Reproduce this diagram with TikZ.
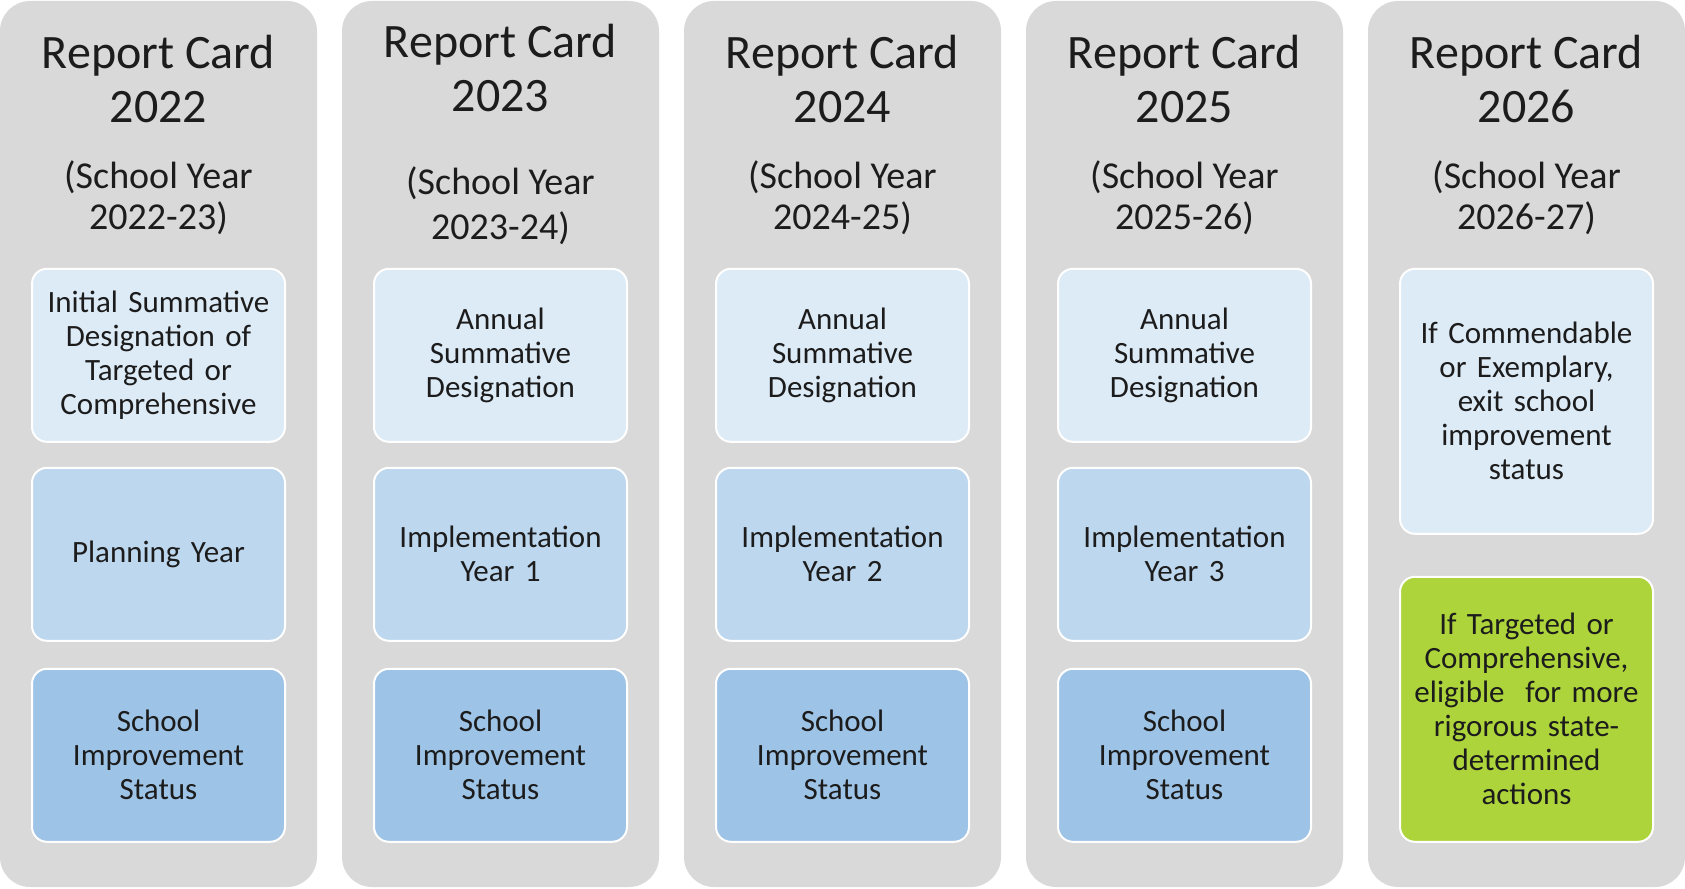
\documentclass[tikz,border=0pt]{standalone}
\usepackage{fontspec}
\setmainfont{Carlito}
\usepackage{xcolor}
\usetikzlibrary{positioning}

\definecolor{colgray}{HTML}{D9D9D9}
\definecolor{boxlight}{HTML}{DDEBF7}
\definecolor{boxmid}{HTML}{BDD7EE}
\definecolor{boxdark}{HTML}{9DC3E6}
\definecolor{boxgreen}{HTML}{ADD43B}
\definecolor{inkgray}{HTML}{1C1C1C}

\begin{document}
\begin{tikzpicture}[x=1pt, y=1pt, text=inkgray]
    \tikzstyle{column} = [rectangle, fill=colgray, rounded corners=30pt, minimum width=317pt, minimum height=886pt, inner sep=0pt]
    \tikzstyle{heading} = [align=center, inner sep=0pt, font=\fontsize{48}{54}\selectfont]
    \tikzstyle{schoolyear} = [align=center, inner sep=0pt, font=\fontsize{38}{41}\selectfont]
    \tikzstyle{stage} = [rectangle, rounded corners=15pt, draw=white, line width=2pt, minimum width=253pt, minimum height=173pt, text width=250pt, align=center, inner sep=0pt, font=\fontsize{31}{34}\selectfont]
    \tikzstyle{designation} = [stage, fill=boxlight]
    \tikzstyle{phase} = [stage, fill=boxmid]
    \tikzstyle{status} = [stage, fill=boxdark]

    \useasboundingbox (0,0) rectangle (1685,-888);

    % Columns
    \node [column] (c1) at (158.5,-444) {};
    \node [column] (c2) at (500.5,-444) {};
    \node [column] (c3) at (842.5,-444) {};
    \node [column] (c4) at (1184.5,-444) {};
    \node [column] (c5) at (1526.5,-444) {};

    % Report Card 2022
    \node [heading] (h1) at ([yshift=-78pt]c1.north) {Report Card\\2022};
    \node [schoolyear] (y1) at ([yshift=-197pt]c1.north) {(School Year\\2022-23)};
    \node [designation, below=267pt of c1.north] (d1) {Initial Summative\\Designation of\\Targeted or\\Comprehensive};
    \node [phase, below=24pt of d1] (p1) {Planning Year};
    \node [status, below=26pt of p1] (s1) {School\\Improvement\\Status};

    % Report Card 2023
    \node [heading] (h2) at ([yshift=-67pt]c2.north) {Report Card\\2023};
    \node [schoolyear, font=\fontsize{38}{45}\selectfont] (y2) at ([yshift=-205pt]c2.north) {(School Year\\2023-24)};
    \node [designation, below=267pt of c2.north] (d2) {Annual\\Summative\\Designation};
    \node [phase, below=24pt of d2] (p2) {Implementation\\Year 1};
    \node [status, below=26pt of p2] (s2) {School\\Improvement\\Status};

    % Report Card 2024
    \node [heading] (h3) at ([yshift=-78pt]c3.north) {Report Card\\2024};
    \node [schoolyear] (y3) at ([yshift=-197pt]c3.north) {(School Year\\2024-25)};
    \node [designation, below=267pt of c3.north] (d3) {Annual\\Summative\\Designation};
    \node [phase, below=24pt of d3] (p3) {Implementation\\Year 2};
    \node [status, below=26pt of p3] (s3) {School\\Improvement\\Status};

    % Report Card 2025
    \node [heading] (h4) at ([yshift=-78pt]c4.north) {Report Card\\2025};
    \node [schoolyear] (y4) at ([yshift=-197pt]c4.north) {(School Year\\2025-26)};
    \node [designation, below=267pt of c4.north] (d4) {Annual\\Summative\\Designation};
    \node [phase, below=24pt of d4] (p4) {Implementation\\Year 3};
    \node [status, below=26pt of p4] (s4) {School\\Improvement\\Status};

    % Report Card 2026
    \node [heading] (h5) at ([yshift=-78pt]c5.north) {Report Card\\2026};
    \node [schoolyear] (y5) at ([yshift=-197pt]c5.north) {(School Year\\2026-27)};
    \node [designation, minimum height=265pt, below=267pt of c5.north] (e5) {If Commendable\\or Exemplary,\\exit school\\improvement\\status};
    \node [stage, fill=boxgreen, minimum height=265pt, below=41pt of e5] (a5) {If Targeted or\\Comprehensive,\\eligible\ \ for more\\rigorous state-\\determined\\actions};

\end{tikzpicture}
\end{document}
